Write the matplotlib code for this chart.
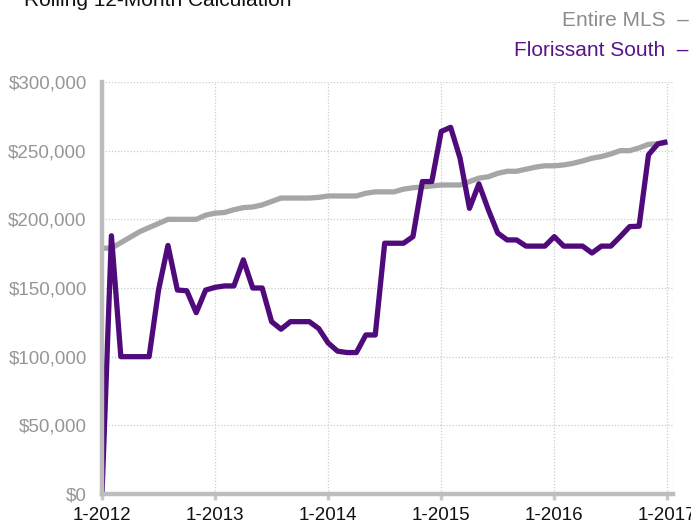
import matplotlib
matplotlib.use("Agg")
import matplotlib.pyplot as plt
from matplotlib.ticker import FuncFormatter, MultipleLocator

plt.rcParams["font.family"] = ["Liberation Sans", "DejaVu Sans"]

# monthly, 1-2012 .. 1-2017 (61 points), values in dollars
months = list(range(61))
entire_mls = [
    179000, 179000, 183000, 187000, 191000, 194000, 197000, 200000, 200000, 200000,
    200000, 203000, 204500, 205000, 207000, 208500, 209000, 210500, 213000, 215500,
    215500, 215500, 215500, 216000, 217000, 217000, 217000, 217000, 219000, 220000,
    220000, 220000, 222000, 223000, 223600, 224300, 225000, 225000, 225000, 227500,
    230000, 231000, 233500, 235000, 235000, 236500, 238000, 239000, 239000, 239600,
    240800, 242500, 244500, 245700, 247600, 250000, 250000, 252000, 254600, 255000,
    256000,
]
florissant_south = [
    0, 188000, 100000, 100000, 100000, 100000, 148500, 181000, 148500, 148000,
    132000, 148500, 150500, 151500, 151500, 170500, 150000, 150000, 125500, 120000,
    125500, 125500, 125500, 120500, 110000, 104000, 103000, 103000, 115800, 115800,
    182600, 182600, 182600, 187400, 227500, 227500, 264000, 267000, 244500, 208000,
    225800, 207000, 190000, 185000, 185000, 180500, 180500, 180500, 187400, 180500,
    180500, 180500, 175500, 180500, 180500, 187400, 194700, 195000, 247000, 255000,
    256500,
]
year_ticks = [0, 12, 24, 36, 48, 60]
year_labels = ["1-2012", "1-2013", "1-2014", "1-2015", "1-2016", "1-2017"]

GRAY = "#a6a6a6"
PURPLE = "#4f0a7c"

fig = plt.figure(figsize=(6.91, 5.27), dpi=100)
ax = fig.add_axes([102 / 691, 1 - 494 / 527, 571 / 691, 412 / 527])

ax.plot(months, entire_mls, color=GRAY, lw=3.8, solid_capstyle="butt", zorder=3)
ax.plot(months, florissant_south, color=PURPLE, lw=3.8, solid_capstyle="butt", zorder=4)

ax.set_xlim(0, 60.6)
ax.set_ylim(0, 300000)
ax.yaxis.set_major_locator(MultipleLocator(50000))
ax.yaxis.set_major_formatter(FuncFormatter(lambda v, p: f"${v:,.0f}"))
ax.set_xticks(year_ticks)
ax.set_xticklabels(year_labels)

ax.grid(True, color="#cccccc", ls=(0, (1, 1.5)), lw=0.9, zorder=0)
ax.axvline(60.6, color="#cccccc", ls=(0, (1, 1.5)), lw=0.9, zorder=0)

for side in ("top", "right"):
    ax.spines[side].set_visible(False)
for side in ("left", "bottom"):
    ax.spines[side].set_color("#bdbdbd")
    ax.spines[side].set_linewidth(3.2)
    ax.spines[side].set_zorder(5)

ax.tick_params(axis="y", length=0, pad=11, labelsize=13.5, labelcolor="#969696")
ax.tick_params(axis="x", length=4, width=2.5, color="#c8c8c8", pad=5,
               labelsize=13.5, labelcolor="#111111")

fig.text(0.035, 1.0, "Rolling 12-Month Calculation", fontsize=15, color="#111111",
         ha="left", va="center")
fig.text(0.997, 0.962, "Entire MLS  \u2013", fontsize=15, color="#8c8c8c",
         ha="right", va="center")
fig.text(0.997, 0.905, "Florissant South  \u2013", fontsize=15, color="#5a1488",
         ha="right", va="center")

fig.savefig("out.png", dpi=100)
